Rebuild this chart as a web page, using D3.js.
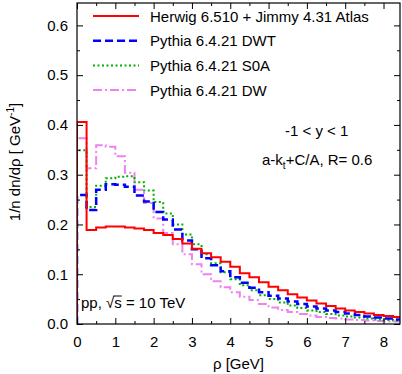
<!DOCTYPE html>
<html>
<head>
<meta charset="utf-8">
<script src="https://cdn.jsdelivr.net/npm/d3@7"></script>
<style>
  body { margin: 0; background: #fff; }
  svg { display: block; }
</style>
</head>
<body>
<svg id="chart"></svg>
<script>
// bin edges: 0.25 GeV wide, starting at 0
const binWidth = 0.25;
const herwig = [0.406, 0.189, 0.194, 0.196, 0.196, 0.194, 0.192, 0.189, 0.183, 0.179, 0.171,
  0.162, 0.151, 0.142, 0.134, 0.125, 0.115, 0.102, 0.094, 0.084, 0.075, 0.068, 0.060, 0.053,
  0.047, 0.041, 0.036, 0.031, 0.027, 0.024, 0.021, 0.018, 0.016, 0.014];
const dwt = [0.259, 0.229, 0.270, 0.281, 0.280, 0.276, 0.258, 0.246, 0.225, 0.210, 0.190,
  0.168, 0.150, 0.132, 0.118, 0.106, 0.094, 0.083, 0.073, 0.064, 0.057, 0.051, 0.045, 0.040,
  0.035, 0.031, 0.027, 0.024, 0.021, 0.018, 0.015, 0.013, 0.011, 0.009];
const s0a = [0.349, 0.235, 0.278, 0.293, 0.296, 0.297, 0.285, 0.268, 0.245, 0.222, 0.200,
  0.180, 0.160, 0.140, 0.122, 0.104, 0.090, 0.078, 0.068, 0.058, 0.050, 0.043, 0.037, 0.032,
  0.027, 0.024, 0.020, 0.017, 0.015, 0.013, 0.011, 0.009, 0.008, 0.007];
const dw = [0.373, 0.313, 0.359, 0.356, 0.337, 0.304, 0.270, 0.243, 0.212, 0.183, 0.160,
  0.140, 0.120, 0.100, 0.086, 0.074, 0.064, 0.055, 0.048, 0.040, 0.033, 0.028, 0.024, 0.020,
  0.017, 0.014, 0.012, 0.011, 0.009, 0.008, 0.007, 0.006, 0.005, 0.005];

const seriesNames = ['Herwig 6.510 + Jimmy 4.31 Atlas', 'Pythia 6.4.21 DWT', 'Pythia 6.4.21 S0A', 'Pythia 6.4.21 DW'];
const xTicks = [0, 1, 2, 3, 4, 5, 6, 7, 8];
const yTicks = [0, 0.1, 0.2, 0.3, 0.4, 0.5, 0.6];

const font = '"Liberation Sans", Arial, sans-serif';
const width = 402, height = 374;
const margin = { top: 3, right: 2, bottom: 50, left: 77 };
const innerWidth = width - margin.left - margin.right;
const innerHeight = height - margin.top - margin.bottom;

const svg = d3.select('#chart').attr('width', width).attr('height', height)
  .attr('font-family', font).attr('font-size', 15);
const g = svg.append('g').attr('transform', `translate(${margin.left},${margin.top})`);

const x = d3.scaleLinear().domain([0, 8.43]).range([0, innerWidth]);
const y = d3.scaleLinear().domain([0, 0.645]).range([innerHeight, 0]);

// clip
svg.append('defs').append('clipPath').attr('id', 'clip')
  .append('rect').attr('width', innerWidth).attr('height', innerHeight);

const styles = [
  { data: herwig, color: '#ff0000', dash: null, width: 2 },
  { data: dwt, color: '#0000ff', dash: '8,4', width: 2.5 },
  { data: s0a, color: '#00b000', dash: '2,2.5', width: 2 },
  { data: dw, color: '#ee82ee', dash: '9,3,2,3', width: 2 }
];

const line = d3.line()
  .x(d => x(d[0]))
  .y(d => y(d[1]))
  .curve(d3.curveStepAfter);

const plot = g.append('g').attr('clip-path', 'url(#clip)');
styles.slice().reverse().forEach(s => {
  const pts = [[0, 0]];
  s.data.forEach((v, i) => pts.push([i * binWidth, v]));
  pts.push([s.data.length * binWidth, s.data[s.data.length - 1]]);
  plot.append('path')
    .datum(pts)
    .attr('fill', 'none')
    .attr('stroke', s.color)
    .attr('stroke-width', s.width)
    .attr('stroke-dasharray', s.dash)
    .attr('d', line);
});

// axes with inward ticks, mirrored
const xMinor = d3.range(0, 8.5, 0.5).filter(v => v % 1 !== 0);
const yMinor = d3.range(0.05, 0.65, 0.1);

function tickStyle(sel) {
  sel.attr('font-size', 15).attr('font-family', font);
  sel.select('.domain').remove();
  sel.selectAll('line').attr('stroke', '#000');
  sel.selectAll('text').attr('fill', '#000');
}
// ticks only, no labels
function bareTicks(sel) {
  tickStyle(sel);
  sel.selectAll('text').remove();
}

g.append('g').attr('transform', `translate(0,${innerHeight})`)
  .call(d3.axisBottom(x).tickValues(xTicks).tickFormat(d3.format('d')).tickSizeInner(-6).tickPadding(12))
  .call(tickStyle);
g.append('g').attr('transform', `translate(0,${innerHeight})`)
  .call(d3.axisBottom(x).tickValues(xMinor).tickSizeInner(-3))
  .call(bareTicks);
g.append('g')
  .call(d3.axisTop(x).tickValues(xTicks).tickSizeInner(-6))
  .call(bareTicks);
g.append('g')
  .call(d3.axisTop(x).tickValues(xMinor).tickSizeInner(-3))
  .call(bareTicks);

g.append('g')
  .call(d3.axisLeft(y).tickValues(yTicks).tickFormat(d3.format('.1f')).tickSizeInner(-6).tickPadding(9))
  .call(tickStyle);
g.append('g')
  .call(d3.axisLeft(y).tickValues(yMinor).tickSizeInner(-3))
  .call(bareTicks);
g.append('g').attr('transform', `translate(${innerWidth},0)`)
  .call(d3.axisRight(y).tickValues(yTicks).tickSizeInner(-6))
  .call(bareTicks);
g.append('g').attr('transform', `translate(${innerWidth},0)`)
  .call(d3.axisRight(y).tickValues(yMinor).tickSizeInner(-3))
  .call(bareTicks);

// frame
g.append('rect')
  .attr('width', innerWidth).attr('height', innerHeight)
  .attr('fill', 'none').attr('stroke', '#000').attr('stroke-width', 1.2);

// axis labels
svg.append('text')
  .attr('x', margin.left + innerWidth / 2)
  .attr('y', 369)
  .attr('text-anchor', 'middle')
  .text('ρ [GeV]');

const yl = svg.append('text')
  .attr('transform', 'translate(20,162) rotate(-90)')
  .attr('text-anchor', 'middle');
yl.append('tspan').text('1/n dn/dρ [ GeV');
yl.append('tspan').attr('dy', -6).attr('font-size', 10).text('-1');
yl.append('tspan').attr('dy', 6).text(']');

// legend
const legend = g.append('g').attr('transform', 'translate(16,13)');
styles.forEach((s, i) => {
  const row = legend.append('g').attr('transform', `translate(0,${i * 24.7})`);
  row.append('line')
    .attr('x1', 0).attr('x2', 46)
    .attr('stroke', s.color)
    .attr('stroke-width', s.width)
    .attr('stroke-dasharray', s.dash);
  row.append('text')
    .attr('x', 57).attr('y', 5.5)
    .text(seriesNames[i]);
});

// annotations
g.append('text').attr('x', 208).attr('y', 133).text('-1 < y < 1');
const jt = g.append('text').attr('x', 185).attr('y', 162);
jt.append('tspan').text('a-k');
jt.append('tspan').attr('dy', 4).attr('font-size', 10).text('t');
jt.append('tspan').attr('dy', -4).text('+C/A, R= 0.6');

const pp = g.append('text').attr('x', 4).attr('y', 305);
pp.append('tspan').text('pp, √');
pp.append('tspan').text('s');
pp.append('tspan').text(' = 10 TeV');
const node = pp.node();
const sx = node.getSubStringLength(0, 5);
const sw = node.getSubStringLength(5, 1);
g.append('line')
  .attr('x1', 4 + sx - 1).attr('x2', 4 + sx + sw)
  .attr('y1', 305 - 12).attr('y2', 305 - 12)
  .attr('stroke', '#000').attr('stroke-width', 1);
</script>
</body>
</html>
